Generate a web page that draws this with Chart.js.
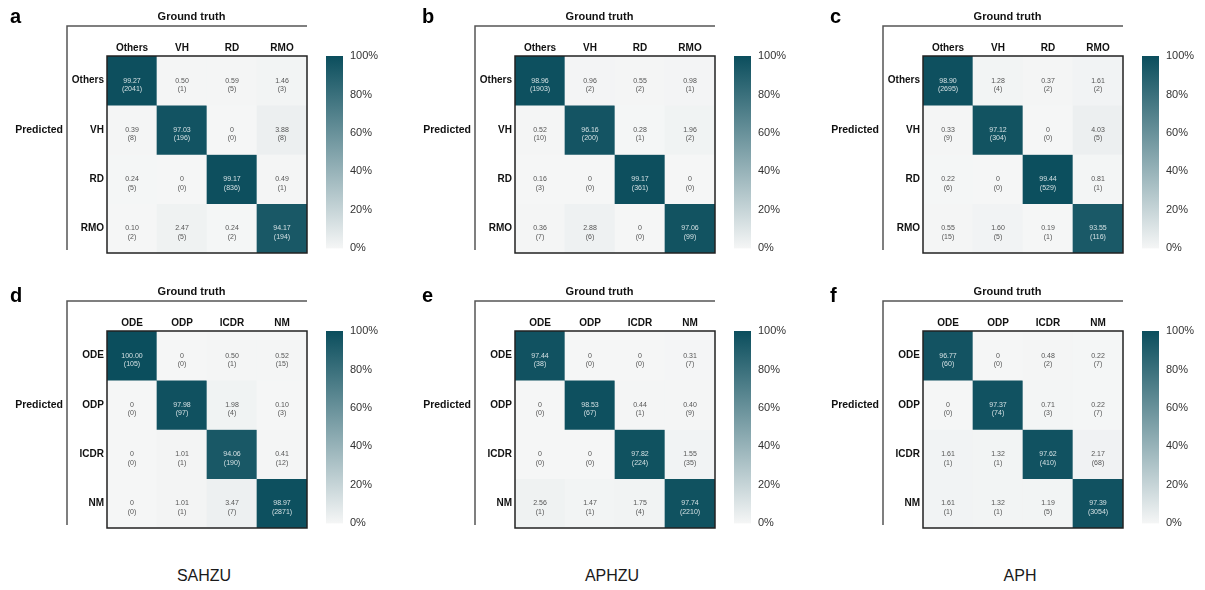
<!DOCTYPE html>
<html>
<head>
<meta charset="utf-8">
<script src="https://cdn.jsdelivr.net/npm/chart.js@4.4.1/dist/chart.umd.min.js"></script>
<style>
  html, body { margin: 0; padding: 0; background: #fff; }
  #wrap { position: relative; width: 1205px; height: 590px; overflow: hidden;
          font-family: "Liberation Sans", Arial, Helvetica, sans-serif; }
  #wrap canvas { position: absolute; }
  .site { position: absolute; top: 567px; font-size: 16px; line-height: 18px; color: #1a1a1a;
          transform: translateX(-50%); white-space: nowrap; }
</style>
</head>
<body>
<div id="wrap"></div>
<script>
// ---- class names ----
const retinaClasses = ['Others', 'VH', 'RD', 'RMO'];
const opticClasses  = ['ODE', 'ODP', 'ICDR', 'NM'];
const sites = ['SAHZU', 'APHZU', 'APH'];
const panelLetters = ['a', 'b', 'c', 'd', 'e', 'f'];
const colorbarTicks = [0, 20, 40, 60, 80, 100];

// ---- confusion matrices: rows = predicted, columns = ground truth ----
// percentage values
const pctA = [[99.27, 0.50, 0.59, 1.46], [0.39, 97.03, 0, 3.88], [0.24, 0, 99.17, 0.49], [0.10, 2.47, 0.24, 94.17]];
const pctB = [[98.96, 0.96, 0.55, 0.98], [0.52, 96.16, 0.28, 1.96], [0.16, 0, 99.17, 0], [0.36, 2.88, 0, 97.06]];
const pctC = [[98.90, 1.28, 0.37, 1.61], [0.33, 97.12, 0, 4.03], [0.22, 0, 99.44, 0.81], [0.55, 1.60, 0.19, 93.55]];
const pctD = [[100.00, 0, 0.50, 0.52], [0, 97.98, 1.98, 0.10], [0, 1.01, 94.06, 0.41], [0, 1.01, 3.47, 98.97]];
const pctE = [[97.44, 0, 0, 0.31], [0, 98.53, 0.44, 0.40], [0, 0, 97.82, 1.55], [2.56, 1.47, 1.75, 97.74]];
const pctF = [[96.77, 0, 0.48, 0.22], [0, 97.37, 0.71, 0.22], [1.61, 1.32, 97.62, 2.17], [1.61, 1.32, 1.19, 97.39]];
// case counts
const cntA = [[2041, 1, 5, 3], [8, 196, 0, 8], [5, 0, 836, 1], [2, 5, 2, 194]];
const cntB = [[1903, 2, 2, 1], [10, 200, 1, 2], [3, 0, 361, 0], [7, 6, 0, 99]];
const cntC = [[2695, 4, 2, 2], [9, 304, 0, 5], [6, 0, 529, 1], [15, 5, 1, 116]];
const cntD = [[105, 0, 1, 15], [0, 97, 4, 3], [0, 1, 190, 12], [0, 1, 7, 2871]];
const cntE = [[38, 0, 0, 7], [0, 67, 1, 9], [0, 0, 224, 35], [1, 1, 4, 2210]];
const cntF = [[60, 0, 2, 7], [0, 74, 3, 7], [1, 1, 410, 68], [1, 1, 5, 3054]];

// ---- layout ----
const COL_STEP = 408, ROW_STEP = 275;
const FONT = '"Liberation Sans", Arial, Helvetica, sans-serif';
const LOW = [245, 246, 246], HIGH = [11, 78, 93];

function cmap(p) {
  const t = Math.max(0, Math.min(1, p / 100));
  return 'rgb(' + LOW.map((l, i) => Math.round(l + (HIGH[i] - l) * t)).join(',') + ')';
}
function fmtPct(v) { return v === 0 ? '0' : v.toFixed(2); }

const panels = [
  { cats: retinaClasses, pct: pctA, cnt: cntA },
  { cats: retinaClasses, pct: pctB, cnt: cntB },
  { cats: retinaClasses, pct: pctC, cnt: cntC },
  { cats: opticClasses,  pct: pctD, cnt: cntD },
  { cats: opticClasses,  pct: pctE, cnt: cntE },
  { cats: opticClasses,  pct: pctF, cnt: cntF }
];

const wrap = document.getElementById('wrap');
function addCanvas(left, top, w, h) {
  const c = document.createElement('canvas');
  c.width = w; c.height = h;
  c.style.left = left + 'px'; c.style.top = top + 'px';
  c.style.width = w + 'px'; c.style.height = h + 'px';
  wrap.appendChild(c);
  return c;
}

// frame, titles and panel letter around a matrix
const matrixFrame = {
  id: 'matrixFrame',
  afterDatasetsDraw(chart, args, opts) {
    const ctx = chart.ctx, ca = chart.chartArea;
    const x0 = ca.left - 40, y0 = ca.top - 30;
    ctx.save();
    // outer box
    ctx.strokeStyle = '#222';
    ctx.lineWidth = 1.5;
    ctx.strokeRect(ca.left, ca.top, ca.right - ca.left, ca.bottom - ca.top);
    // bracket lines
    ctx.strokeStyle = '#555';
    ctx.lineWidth = 1.5;
    ctx.beginPath();
    ctx.moveTo(x0, ca.bottom - 3);
    ctx.lineTo(x0, y0);
    ctx.lineTo(ca.right, y0);
    ctx.stroke();
    // titles
    ctx.fillStyle = '#111';
    ctx.textBaseline = 'middle';
    ctx.font = 'bold 11px ' + FONT;
    ctx.textAlign = 'center';
    ctx.fillText('Ground truth', (x0 + ca.right) / 2 + 4.5, y0 - 9);
    ctx.font = 'bold 10.5px ' + FONT;
    ctx.textAlign = 'right';
    const yScale = chart.scales.y;
    ctx.fillText('Predicted', x0 - 4, yScale.getPixelForValue(1.5));
    // panel letter
    ctx.font = 'bold 20px ' + FONT;
    ctx.textAlign = 'left';
    ctx.textBaseline = 'alphabetic';
    ctx.fillStyle = '#000';
    ctx.fillText(opts.letter, opts.letterX, opts.letterY);
    ctx.restore();
  }
};

// percentage and count written in each cell
const cellText = {
  id: 'cellText',
  afterDatasetsDraw(chart, args, opts) {
    const ctx = chart.ctx;
    ctx.save();
    ctx.font = '7px ' + FONT;
    ctx.textAlign = 'center';
    ctx.textBaseline = 'middle';
    chart.data.datasets.forEach((ds, r) => {
      chart.getDatasetMeta(r).data.forEach((bar, c) => {
        const p = opts.pct[r][c];
        const cy = (bar.y + bar.base) / 2;
        ctx.fillStyle = p > 50 ? '#d3e0e3' : '#555';
        ctx.fillText(fmtPct(p), bar.x, cy);
        ctx.fillText('(' + opts.cnt[r][c] + ')', bar.x, cy + 8.5);
      });
    });
    ctx.restore();
  }
};

panels.forEach((pn, k) => {
  const col = k % 3, row = Math.floor(k / 3);
  const left = col * COL_STEP, top = row * ROW_STEP;

  // ---- matrix ----
  const mc = addCanvas(left, top, 310, 262);
  new Chart(mc, {
    type: 'bar',
    data: {
      labels: pn.cats,
      datasets: pn.cats.map((rowName, r) => ({
        label: rowName,
        data: pn.cats.map(() => [r, r + 1]),
        backgroundColor: pn.pct[r].map(cmap),
        borderWidth: 0,
        borderSkipped: false,
        barPercentage: 1,
        categoryPercentage: 1,
        grouped: false
      }))
    },
    options: {
      responsive: false,
      animation: false,
      devicePixelRatio: 1,
      events: [],
      layout: { padding: { left: 0, top: 0, right: 3, bottom: 6 } },
      plugins: {
        legend: { display: false },
        tooltip: { enabled: false },
        matrixFrame: { letter: panelLetters[k], letterX: col === 0 ? 10 : 14, letterY: row === 0 ? 23 : 27 },
        cellText: { pct: pn.pct, cnt: pn.cnt }
      },
      scales: {
        x: {
          position: 'top',
          grid: { display: false, drawTicks: false },
          border: { display: false },
          ticks: { font: { family: FONT, size: 10, weight: 'bold' }, color: '#111', padding: 2 },
          afterFit: s => { s.height = 56; }
        },
        y: {
          type: 'linear',
          min: 0, max: pn.cats.length,
          reverse: true,
          grid: { display: false, drawTicks: false },
          border: { display: false },
          afterBuildTicks: s => { s.ticks = pn.cats.map((_, i) => ({ value: i + 0.5 })); },
          ticks: {
            font: { family: FONT, size: 10, weight: 'bold' }, color: '#111', padding: 3,
            callback: v => pn.cats[Math.floor(v)]
          },
          afterFit: s => { s.width = 107; }
        }
      }
    },
    plugins: [matrixFrame, cellText]
  });

  // ---- colour bar ----
  const cc = addCanvas(left + 310, top, 90, 262);
  new Chart(cc, {
    type: 'bar',
    data: {
      labels: [''],
      datasets: [{
        data: [[colorbarTicks[0], colorbarTicks[colorbarTicks.length - 1]]],
        backgroundColor: (ctx) => {
          const ca = ctx.chart.chartArea;
          if (!ca) return cmap(100);
          const g = ctx.chart.ctx.createLinearGradient(0, ca.bottom, 0, ca.top);
          g.addColorStop(0, cmap(0));
          g.addColorStop(1, cmap(100));
          return g;
        },
        borderWidth: 0,
        borderSkipped: false,
        barPercentage: 1,
        categoryPercentage: 1
      }]
    },
    options: {
      responsive: false,
      animation: false,
      devicePixelRatio: 1,
      events: [],
      layout: { padding: { left: 16, top: 56, right: 0, bottom: 7 } },
      plugins: { legend: { display: false }, tooltip: { enabled: false } },
      scales: {
        x: { display: false },
        y: {
          position: 'right',
          min: 0, max: 100,
          grid: { display: false, drawTicks: false },
          border: { display: false },
          afterBuildTicks: s => { s.ticks = colorbarTicks.map(v => ({ value: v })); },
          ticks: {
            font: { family: FONT, size: 11 }, color: '#333', padding: 7,
            callback: v => v + '%'
          },
          afterFit: s => { s.width = 57; }
        }
      }
    }
  });
});

// ---- cohort names under each column ----
sites.forEach((name, i) => {
  const d = document.createElement('div');
  d.className = 'site';
  d.textContent = name;
  d.style.left = (i * COL_STEP + 204) + 'px';
  wrap.appendChild(d);
});
</script>
</body>
</html>
